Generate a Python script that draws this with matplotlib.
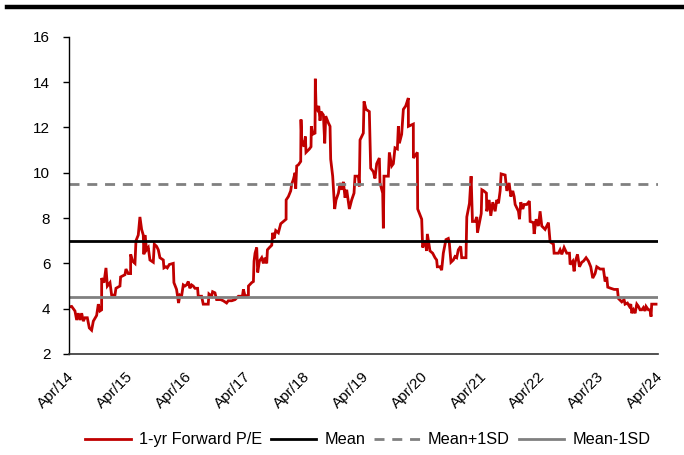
import matplotlib
matplotlib.use('Agg')
import matplotlib.pyplot as plt
import matplotlib.dates as mdates
import matplotlib.transforms as mtransforms
import numpy as np
from datetime import datetime, timedelta

plt.rcParams['font.family'] = ['Liberation Sans', 'DejaVu Sans']

# decimal years and 1-yr forward P/E
years = [
    2014.250, 2014.290, 2014.346, 2014.375, 2014.403, 2014.431, 2014.460, 2014.488, 2014.516, 2014.556,
    2014.590, 2014.629, 2014.658, 2014.714, 2014.743, 2014.771, 2014.799, 2014.800, 2014.839, 2014.873,
    2014.896, 2014.941, 2014.969, 2015.026, 2015.043, 2015.111, 2015.122, 2015.196, 2015.213, 2015.252,
    2015.292, 2015.293, 2015.326, 2015.366, 2015.383, 2015.422, 2015.450, 2015.479, 2015.507, 2015.518,
    2015.535, 2015.564, 2015.592, 2015.620, 2015.677, 2015.694, 2015.734, 2015.762, 2015.790, 2015.847,
    2015.858, 2015.892, 2015.915, 2015.949, 2016.017, 2016.028, 2016.073, 2016.107, 2016.130, 2016.158,
    2016.187, 2016.215, 2016.243, 2016.272, 2016.300, 2016.328, 2016.356, 2016.385, 2016.430, 2016.441,
    2016.498, 2016.526, 2016.611, 2016.623, 2016.668, 2016.685, 2016.725, 2016.753, 2016.821, 2016.866,
    2016.923, 2016.951, 2017.008, 2017.064, 2017.121, 2017.189, 2017.206, 2017.234, 2017.291, 2017.292,
    2017.347, 2017.376, 2017.387, 2017.404, 2017.432, 2017.449, 2017.478, 2017.517, 2017.546, 2017.574,
    2017.602, 2017.614, 2017.648, 2017.687, 2017.704, 2017.727, 2017.755, 2017.800, 2017.840, 2017.885,
    2017.931, 2017.932, 2017.970, 2018.010, 2018.027, 2018.055, 2018.084, 2018.095, 2018.112, 2018.140,
    2018.180, 2018.185, 2018.197, 2018.236, 2018.259, 2018.270, 2018.327, 2018.355, 2018.360, 2018.384,
    2018.423, 2018.428, 2018.440, 2018.463, 2018.486, 2018.508, 2018.525, 2018.565, 2018.588, 2018.605,
    2018.650, 2018.678, 2018.689, 2018.723, 2018.757, 2018.780, 2018.820, 2018.848, 2018.876, 2018.905,
    2018.933, 2018.961, 2019.007, 2019.046, 2019.086, 2019.103, 2019.159, 2019.176, 2019.188, 2019.244,
    2019.256, 2019.290, 2019.346, 2019.369, 2019.414, 2019.442, 2019.471, 2019.516, 2019.527, 2019.573,
    2019.584, 2019.595, 2019.669, 2019.686, 2019.726, 2019.754, 2019.782, 2019.822, 2019.839, 2019.856,
    2019.895, 2019.924, 2019.964, 2020.009, 2020.010, 2020.094, 2020.095, 2020.162, 2020.168, 2020.236,
    2020.252, 2020.292, 2020.320, 2020.332, 2020.377, 2020.422, 2020.462, 2020.490, 2020.501, 2020.547,
    2020.575, 2020.603, 2020.648, 2020.688, 2020.705, 2020.733, 2020.773, 2020.801, 2020.830, 2020.858,
    2020.898, 2020.915, 2020.988, 2021.000, 2021.045, 2021.073, 2021.096, 2021.141, 2021.170, 2021.181,
    2021.226, 2021.245, 2021.256, 2021.288, 2021.333, 2021.339, 2021.379, 2021.407, 2021.441, 2021.481,
    2021.509, 2021.538, 2021.566, 2021.583, 2021.651, 2021.679, 2021.719, 2021.747, 2021.781, 2021.804,
    2021.821, 2021.877, 2021.894, 2021.917, 2021.951, 2021.974, 2022.019, 2022.064, 2022.076, 2022.132,
    2022.144, 2022.178, 2022.217, 2022.245, 2022.274, 2022.330, 2022.387, 2022.415, 2022.472, 2022.483,
    2022.557, 2022.585, 2022.614, 2022.653, 2022.698, 2022.744, 2022.755, 2022.800, 2022.823, 2022.840,
    2022.880, 2022.914, 2022.953, 2022.982, 2023.027, 2023.067, 2023.106, 2023.140, 2023.180, 2023.208,
    2023.265, 2023.321, 2023.350, 2023.378, 2023.395, 2023.446, 2023.503, 2023.559, 2023.576, 2023.633,
    2023.672, 2023.689, 2023.729, 2023.763, 2023.786, 2023.803, 2023.831, 2023.859, 2023.888, 2023.916,
    2023.944, 2023.973, 2024.001, 2024.029, 2024.046, 2024.086, 2024.114, 2024.131, 2024.142, 2024.216,
]
pe = [
    4.08, 4.1, 3.9, 3.5, 3.8, 3.5, 3.8, 3.45, 3.6, 3.6,
    3.15, 3.05, 3.45, 3.7, 4.2, 3.9, 3.95, 5.35, 5.15, 5.8,
    5.0, 5.15, 4.6, 4.6, 4.9, 5.0, 5.4, 5.5, 5.75, 5.55,
    5.55, 6.4, 6.1, 6.0, 7.0, 7.25, 8.05, 7.5, 7.25, 6.4,
    7.25, 6.6, 6.7, 6.15, 6.05, 6.85, 6.75, 6.6, 6.25, 6.15,
    5.8, 5.85, 5.8, 5.95, 6.0, 5.15, 4.85, 4.25, 4.6, 4.55,
    5.05, 5.0, 5.05, 5.2, 4.9, 5.05, 5.0, 4.9, 4.9, 4.55,
    4.55, 4.2, 4.2, 4.65, 4.55, 4.75, 4.7, 4.4, 4.4, 4.35,
    4.25, 4.35, 4.35, 4.4, 4.55, 4.55, 4.85, 4.55, 4.6, 5.0,
    5.15, 5.2, 6.1, 6.45, 6.7, 5.6, 6.1, 6.25, 6.0, 6.25,
    6.0, 6.6, 6.7, 6.8, 7.35, 7.1, 7.45, 7.35, 7.75, 7.85,
    7.95, 8.8, 8.95, 9.2, 9.5, 9.7, 10.0, 9.3, 10.3, 10.35,
    10.5, 12.35, 11.45, 11.15, 11.6, 10.9, 11.05, 11.15, 12.05, 11.7,
    11.75, 14.15, 12.95, 12.8, 12.95, 12.3, 12.7, 12.55, 11.3, 12.5,
    12.2, 12.05, 10.6, 9.85, 8.4, 8.8, 9.1, 9.55, 9.25, 9.6,
    8.9, 9.25, 8.4, 8.8, 9.1, 9.85, 9.85, 9.4, 11.45, 11.75,
    13.15, 12.8, 12.7, 10.2, 10.05, 9.75, 10.4, 10.65, 9.55, 9.1,
    7.55, 9.85, 9.85, 10.9, 10.3, 10.4, 11.1, 11.05, 12.05, 11.3,
    11.7, 12.8, 12.95, 13.3, 12.05, 12.15, 10.65, 10.9, 8.4, 7.95,
    6.7, 7.0, 6.55, 7.3, 6.55, 6.45, 6.25, 6.15, 5.85, 5.85,
    5.7, 6.45, 7.05, 7.1, 6.9, 6.05, 6.15, 6.3, 6.25, 6.6,
    6.75, 6.25, 6.25, 8.05, 8.65, 9.85, 7.85, 7.85, 8.05, 7.35,
    7.95, 8.2, 9.25, 9.2, 9.1, 8.3, 8.8, 8.1, 8.7, 8.3,
    8.8, 8.65, 9.2, 9.95, 9.9, 9.2, 9.55, 8.95, 9.2, 8.95,
    8.6, 8.3, 7.95, 8.7, 8.4, 8.6, 8.6, 8.75, 7.85, 7.8,
    7.3, 7.95, 7.65, 8.3, 7.65, 7.5, 7.8, 6.95, 6.85, 6.45,
    6.45, 6.6, 6.4, 6.7, 6.45, 6.45, 5.95, 6.1, 5.65, 6.05,
    6.4, 5.85, 6.05, 6.1, 6.25, 6.1, 5.85, 5.35, 5.55, 5.85,
    5.75, 5.75, 5.2, 5.4, 4.95, 4.9, 4.85, 4.85, 4.45, 4.3,
    4.4, 4.2, 4.25, 4.1, 4.2, 3.8, 3.95, 3.8, 4.2, 4.1,
    3.95, 3.95, 4.05, 3.9, 4.1, 3.95, 3.95, 3.65, 4.2, 4.2,
]
mean_pe = 7.0
mean_plus_sd = 9.5
mean_minus_sd = 4.5

labels = ['1-yr Forward P/E', 'Mean', 'Mean+1SD', 'Mean-1SD']


def to_date(y):
    yr = int(y)
    start = datetime(yr, 1, 1)
    return start + timedelta(days=(y - yr) * 365.25)


dates = [to_date(y) for y in years]

fig = plt.figure(figsize=(6.84, 4.55), dpi=100)
ax = fig.add_axes([0.101, 0.222, 0.861, 0.697])

ax.plot(dates, pe, color='#C00000', lw=2.0, label=labels[0], solid_joinstyle='miter')
ax.axhline(mean_pe, color='black', lw=2.0, label=labels[1])
ax.axhline(mean_plus_sd, color='#808080', lw=2.0, ls=(0, (3.6, 2.8)), label=labels[2])
ax.axhline(mean_minus_sd, color='#808080', lw=2.0, label=labels[3])

ax.set_xlim(datetime(2014, 4, 1), datetime(2024, 4, 1))
ax.set_ylim(2, 16)
ax.set_yticks(np.arange(2, 17, 2))
ax.set_xticks([datetime(y, 4, 1) for y in range(2014, 2025)])
ax.xaxis.set_major_formatter(mdates.DateFormatter('%b/%y'))

for s in ['top', 'right']:
    ax.spines[s].set_visible(False)
ax.spines['left'].set_linewidth(1.0)
ax.spines['bottom'].set_linewidth(1.2)
ax.spines['bottom'].set_color('#333333')

ax.tick_params(axis='y', direction='out', length=4.5, width=1.0, pad=9, labelsize=11)
ax.tick_params(axis='x', length=0, pad=11, labelsize=11)
shift = mtransforms.ScaledTranslation(-2 / 100, 0, fig.dpi_scale_trans)
for lab in ax.get_xticklabels():
    lab.set_rotation(45)
    lab.set_ha('right')
    lab.set_va('top')
    lab.set_rotation_mode('anchor')
    lab.set_transform(lab.get_transform() + shift)

ax.legend(loc='center', bbox_to_anchor=(0.507, -0.271), ncol=4, frameon=False,
          fontsize=11.7, handlelength=2.8, handletextpad=0.5, columnspacing=0.55)

# header rule across the top
fig.add_artist(plt.Line2D([0.01, 1.0], [0.984, 0.984], color='black', lw=3.2,
                          transform=fig.transFigure))

fig.savefig('out.png', dpi=100)
